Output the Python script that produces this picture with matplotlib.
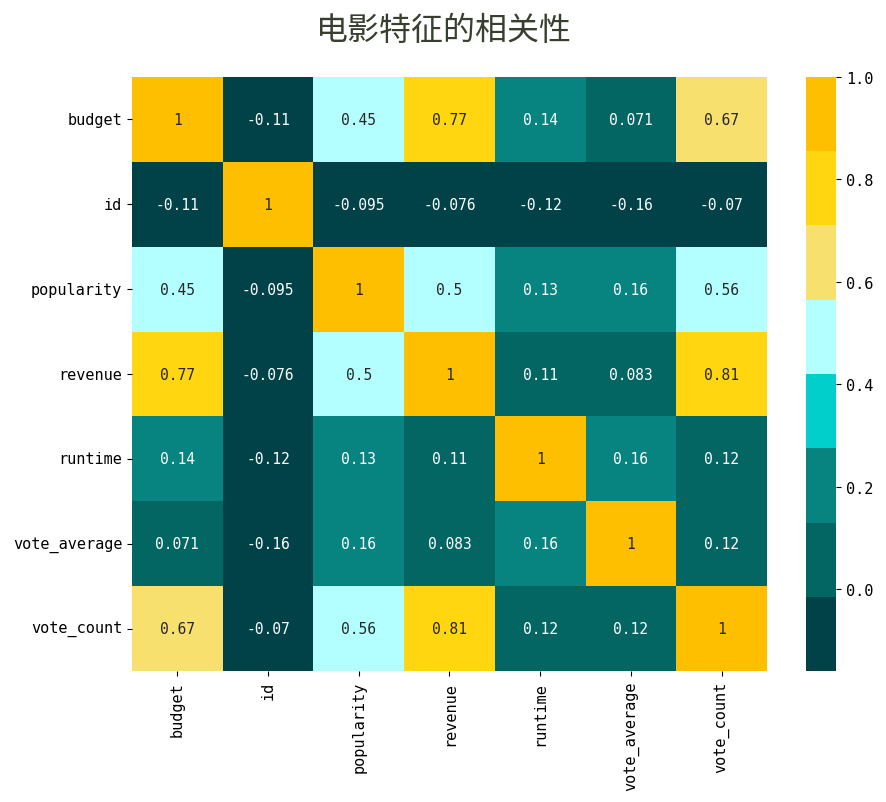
import numpy as np
import matplotlib
matplotlib.use("Agg")
import matplotlib.pyplot as plt
import seaborn as sns
from matplotlib.colors import ListedColormap

# label dan nilai korelasi
labels = ["budget", "id", "popularity", "revenue", "runtime", "vote_average", "vote_count"]
row_budget = [1, -0.11, 0.45, 0.77, 0.14, 0.071, 0.67]
row_id = [-0.11, 1, -0.095, -0.076, -0.12, -0.16, -0.07]
row_popularity = [0.45, -0.095, 1, 0.5, 0.133, 0.16, 0.56]
row_revenue = [0.77, -0.076, 0.5, 1, 0.11, 0.083, 0.81]
row_runtime = [0.14, -0.12, 0.133, 0.11, 1, 0.16, 0.12]
row_vote_average = [0.071, -0.16, 0.16, 0.083, 0.16, 1, 0.12]
row_vote_count = [0.67, -0.07, 0.56, 0.81, 0.12, 0.12, 1]

corr = np.array([row_budget, row_id, row_popularity, row_revenue,
                 row_runtime, row_vote_average, row_vote_count])

warna = ["#004247", "#036663", "#07847f", "#00cfcc",
         "#b3ffff", "#f7e06e", "#ffd60f", "#fdbf00"]
cmap = ListedColormap(warna)

plt.rcParams['font.family'] = ['DejaVu Sans Mono', 'Noto Sans CJK SC']
plt.rcParams['axes.unicode_minus'] = True

fig = plt.figure(figsize=(8.87, 8.03), dpi=100)
ax = fig.add_axes([0.1488, 0.1631, 0.7159, 0.7398])
cax = fig.add_axes([0.9087, 0.1631, 0.0338, 0.7398])

sns.heatmap(corr, annot=True, cmap=cmap, ax=ax, cbar_ax=cax,
            xticklabels=labels, yticklabels=labels,
            annot_kws={"size": 10.5})

ax.tick_params(axis='both', labelsize=11)
plt.setp(ax.get_xticklabels(), rotation=90)
plt.setp(ax.get_yticklabels(), rotation=0)
cax.tick_params(labelsize=11)

fig.suptitle("电影特征的相关性", fontsize=23, color="#373f2f",
             family=['Noto Sans CJK SC', 'DejaVu Sans'], y=0.982)

fig.savefig("out.png", dpi=100)
